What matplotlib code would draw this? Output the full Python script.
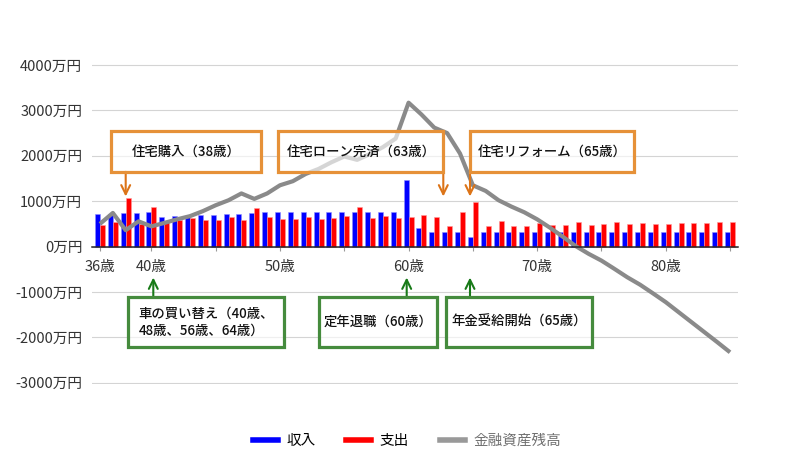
import matplotlib
matplotlib.use('Agg')
import matplotlib.pyplot as plt
from matplotlib.patches import Rectangle
from matplotlib.lines import Line2D

plt.rcParams['font.family'] = ['Noto Sans CJK JP', 'DejaVu Sans']

# ---------------- data ----------------
ages = list(range(36, 86))
income = [710, 715, 730, 750, 755, 660, 670, 650, 690, 705,
          715, 728, 742, 755, 765, 770, 770, 770, 770, 770,
          770, 770, 770, 770, 1460, 415, 310, 310, 310, 220,
          325, 325, 325, 325, 325, 325, 325, 325, 325, 325,
          325, 325, 325, 325, 325, 325, 325, 325, 325, 325]
expense = [475, 530, 1075, 495, 880, 530, 578, 635, 580, 580,
           644, 585, 858, 650, 600, 600, 660, 610, 620, 665,
           880, 620, 675, 630, 640, 700, 640, 442, 756, 972,
           450, 570, 463, 463, 522, 472, 478, 535, 478, 490,
           550, 500, 512, 505, 507, 515, 515, 515, 530, 536]
assets = [500, 740, 360, 555, 445, 520, 600, 670, 780, 910,
          1020, 1170, 1050, 1170, 1350, 1440, 1600, 1710, 1857, 1985,
          1910, 2040, 2190, 2380, 3170, 2910, 2620, 2500, 2050, 1350,
          1225, 1020, 880, 755, 600, 415, 215, 10, -160, -310,
          -490, -675, -840, -1030, -1225, -1445, -1665, -1885, -2105, -2330]

series_labels = ['収入', '支出', '金融資産残高']
ytick_vals = [-3000, -2000, -1000, 0, 1000, 2000, 3000, 4000]
ytick_labels = [f'{v}万円' for v in ytick_vals]
xtick_ages = [36, 40, 50, 60, 70, 80]
xtick_labels = ['36歳', '40歳', '50歳', '60歳', '70歳', '80歳']
minor_tick_ages = [45, 55, 65, 75, 85]

orange_notes = ['住宅購入（38歳）', '住宅ローン完済（63歳）', '住宅リフォーム（65歳）']
green_notes = ['車の買い替え（40歳、\n48歳、56歳、64歳）', '定年退職（60歳）', '年金受給開始（65歳）']

# ---------------- figure ----------------
W, H = 795, 468
fig = plt.figure(figsize=(W / 100, H / 100), dpi=100)
ax_top, ax_bot = 64.1, 383.6
ax = fig.add_axes([92 / W, 1 - ax_bot / H, (738 - 92) / W, (ax_bot - ax_top) / H])

blue = '#0000FF'
red = '#FF0000'
grey_line = '#8a8a8a'
bw = 0.39

ax.bar([a - bw / 2 for a in ages], income, width=bw, color=blue,
       edgecolor='#8f8fff', linewidth=0.4, zorder=2)
ax.bar([a + bw / 2 for a in ages], expense, width=bw, color=red,
       edgecolor='#ff9a9a', linewidth=0.4, zorder=2)
ax.plot(ages, assets, color=grey_line, lw=3.0, zorder=3,
        solid_joinstyle='round', solid_capstyle='butt')

ax.set_xlim(35.38, 85.62)
ax.set_ylim(-3020, 4020)

for s in ['top', 'right', 'left']:
    ax.spines[s].set_visible(False)
ax.spines['bottom'].set_position(('data', 0))
ax.spines['bottom'].set_color('#262626')
ax.spines['bottom'].set_linewidth(1.1)
ax.spines['bottom'].set_zorder(4)

ax.set_yticks(ytick_vals)
ax.set_yticklabels(ytick_labels)
ax.tick_params(axis='y', length=0, pad=7, labelsize=10.5, labelcolor='#333333')

ax.set_xticks(xtick_ages)
ax.set_xticklabels(xtick_labels)
ax.set_xticks(minor_tick_ages, minor=True)
ax.tick_params(axis='x', which='both', direction='out', length=3,
               width=0.8, color='#999999', pad=7, labelsize=10.5, labelcolor='#333333')

ax.yaxis.grid(True, color='#d4d4d4', lw=0.8)
ax.set_axisbelow(True)

# ---------------- legend ----------------
handles = [Line2D([0], [0], color=blue, lw=4),
           Line2D([0], [0], color=red, lw=4),
           Line2D([0], [0], color='#999999', lw=4)]
leg = fig.legend(handles, series_labels, loc='center',
                 bbox_to_anchor=(407 / W, 1 - 441 / H), ncol=3, frameon=False,
                 fontsize=10.5, handlelength=1.7, handletextpad=0.6,
                 columnspacing=2.1)
leg.get_texts()[2].set_color('#707070')

# ---------------- annotations ----------------
def fx(x):
    return x / W

def fy(y):
    return 1 - y / H

def box(x0, x1, y0, y1, text, edge):
    r = Rectangle((fx(x0), fy(y1)), (x1 - x0) / W, (y1 - y0) / H,
                  transform=fig.transFigure, facecolor=(1, 1, 1, 0.65),
                  edgecolor=edge, lw=2.3, zorder=5)
    fig.add_artist(r)
    fig.text(fx((x0 + x1) / 2), fy((y0 + y1) / 2), text, ha='center', va='center',
             fontsize=9.6, color='#111111', zorder=6, fontweight='medium',
             multialignment='left', linespacing=1.3)

def arrow(x, y_from, y_to, color):
    ax.annotate('', xy=(fx(x), fy(y_to)), xytext=(fx(x), fy(y_from)),
                xycoords='figure fraction', textcoords='figure fraction',
                annotation_clip=False, zorder=6,
                arrowprops=dict(arrowstyle='->,head_length=0.65,head_width=0.32',
                                color=color, lw=1.5, shrinkA=0, shrinkB=0))

orange = '#E69138'
orange_arrow = '#DC7418'
green = '#458B3D'
green_arrow = '#187A18'

oy0, oy1 = 130.7, 171.7
box(111, 261, oy0, oy1, orange_notes[0], orange)
box(278.3, 443.3, oy0, oy1, orange_notes[1], orange)
box(470, 634, oy0, oy1, orange_notes[2], orange)
arrow(125.7, oy1, 196.5, orange_arrow)
arrow(443.3, oy1, 196.5, orange_arrow)
arrow(470, oy1, 196.5, orange_arrow)

gy0, gy1 = 297.3, 346.7
box(128.3, 284, gy0, gy1, green_notes[0], green)
box(319, 436.7, gy0, gy1, green_notes[1], green)
box(446, 592.3, gy0, gy1, green_notes[2], green)
arrow(153.3, gy0, 277.5, green_arrow)
arrow(406.7, gy0, 277.5, green_arrow)
arrow(470, gy0, 277.5, green_arrow)

fig.savefig('out.png', dpi=100)
